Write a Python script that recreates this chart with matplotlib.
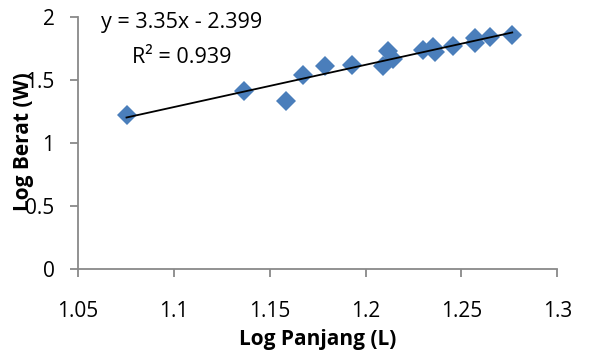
import matplotlib.pyplot as plt

# Data
log_panjang = [1.0753, 1.1366, 1.1584, 1.1674, 1.1788, 1.1930, 1.2092, 1.2118,
               1.2144, 1.2300, 1.2353, 1.2360, 1.2454, 1.2570, 1.2570, 1.2649, 1.2765]
log_berat = [1.225, 1.417, 1.338, 1.542, 1.608, 1.621, 1.608, 1.727,
             1.667, 1.740, 1.762, 1.720, 1.767, 1.833, 1.790, 1.841, 1.860]

slope = 3.35
intercept = -2.399
r_squared = 0.939

x_ticks = [1.05, 1.1, 1.15, 1.2, 1.25, 1.3]
x_tick_labels = ["1.05", "1.1", "1.15", "1.2", "1.25", "1.3"]
y_ticks = [0, 0.5, 1, 1.5, 2]
y_tick_labels = ["0", "0.5", "1", "1.5", "2"]


def main():
    plt.rcParams["font.family"] = ["Open Sans", "DejaVu Sans"]
    W, H = 590, 354

    fig = plt.figure(figsize=(5.9, 3.54), dpi=100)
    ax = fig.add_axes([78 / W, 1 - 269.3 / H, (557.3 - 78) / W, (269.3 - 17) / H])

    # trend line over the data range
    x_min, x_max = min(log_panjang), max(log_panjang)
    ax.plot([x_min, x_max], [slope * x_min + intercept, slope * x_max + intercept],
            color="black", linewidth=1.3, zorder=3)

    ax.plot(log_panjang, log_berat, linestyle="none", marker="D", markersize=10.5,
            color="#4a7ebb", markeredgewidth=0, zorder=2)

    ax.set_xlim(1.05, 1.3)
    ax.set_ylim(0, 2)
    ax.set_xticks(x_ticks)
    ax.set_xticklabels(x_tick_labels)
    ax.set_yticks(y_ticks)
    ax.set_yticklabels(y_tick_labels)

    for side in ["top", "right"]:
        ax.spines[side].set_visible(False)
    for side in ["left", "bottom"]:
        ax.spines[side].set_color("#898989")
        ax.spines[side].set_linewidth(1.3)
    ax.tick_params(axis="both", colors="#898989", length=6, width=1.3,
                   labelsize=15, labelcolor="black")
    ax.tick_params(axis="x", pad=17)
    ax.tick_params(axis="y", pad=11)

    fig.text(318 / W, 1 - 340 / H, "Log Panjang (L)", fontsize=15,
             fontweight="bold", ha="center", va="center")
    fig.text(24 / W, 1 - 142 / H, "Log Berat (W)", rotation=90, fontsize=15,
             fontweight="bold", ha="center", va="center")

    fig.text(182 / W, 1 - 28 / H, f"y = {slope}x - {abs(intercept)}",
             fontsize=15.5, ha="center", va="baseline")
    fig.text(182 / W, 1 - 63 / H, f"R\u00b2 = {r_squared}",
             fontsize=15.5, ha="center", va="baseline")

    fig.savefig("out.png", dpi=100)


if __name__ == "__main__":
    main()
